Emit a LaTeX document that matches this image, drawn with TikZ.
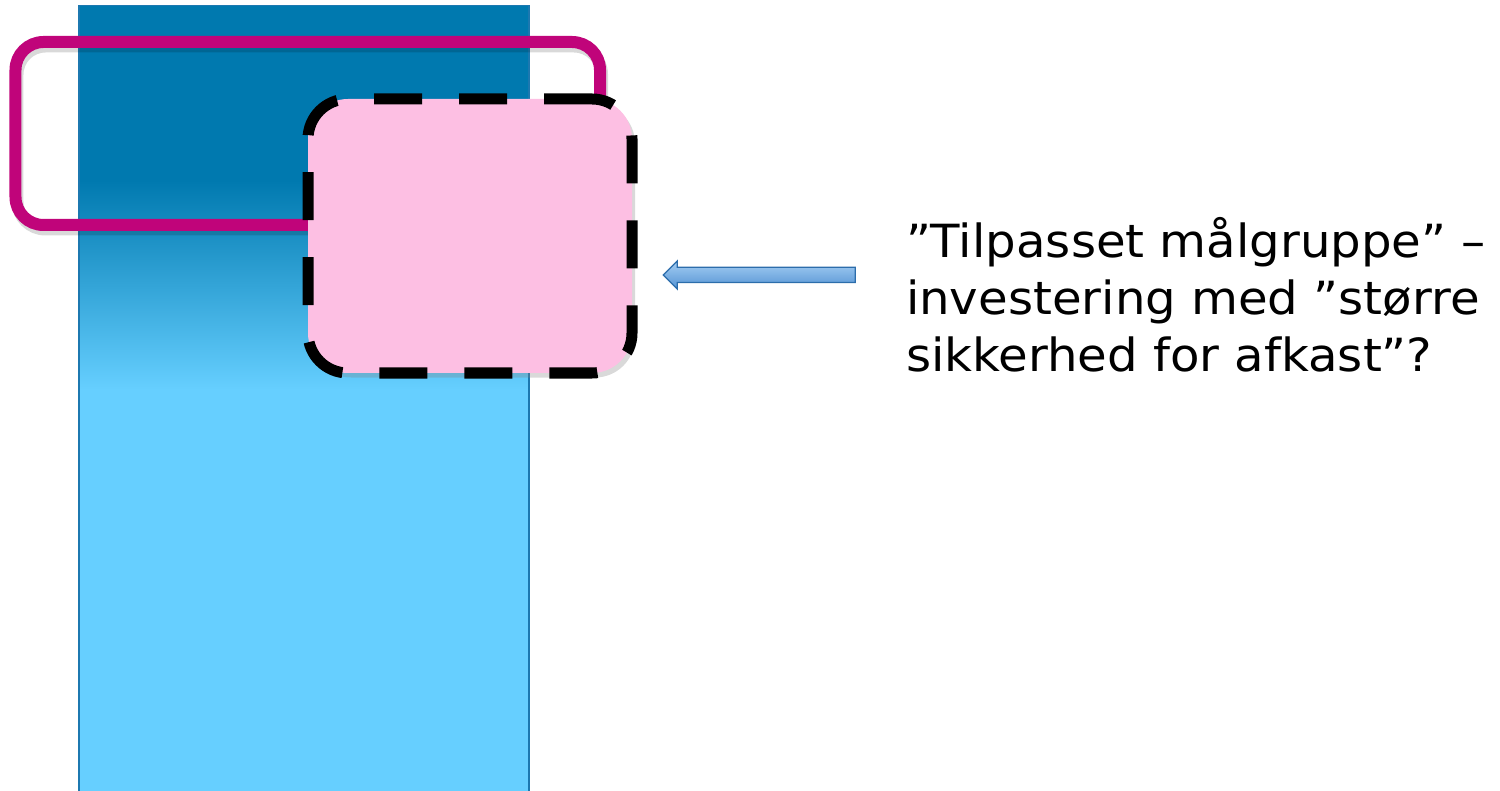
\documentclass[tikz,border=0pt]{standalone}
\usepackage{fontspec}
\setmainfont{DejaVu Sans}[FakeStretch=1.055]
\usetikzlibrary{shapes,shadows,arrows,positioning,calc}

\definecolor{soejlemoerk}{HTML}{0079AF}
\definecolor{soejlelys}{HTML}{66CFFF}
\definecolor{soejlekant}{HTML}{1C78B0}
\definecolor{rammefarve}{HTML}{C0047A}
\definecolor{fokusfyld}{HTML}{FDBFE3}
\definecolor{pilkant}{HTML}{2C6DAB}
\definecolor{pillys}{HTML}{A6CDF2}
\definecolor{pilmoerk}{HTML}{5394D5}

\begin{document}
\begin{tikzpicture}[
				x=0.2mm, y=-0.2mm,
				every node/.style={inner sep=0pt, outer sep=0pt},
				ramme/.style={
						draw=rammefarve, line width=2.4mm, rounded corners=5.6mm,
						minimum width=116.9mm, minimum height=36.6mm,
						preaction={draw=black, draw opacity=0.15,
								transform canvas={shift={(0.4mm,-0.9mm)}}}
					},
				fokus/.style={
						fill=fokusfyld, draw=black, line width=2.2mm,
						dash pattern=on 9.6mm off 7.4mm, rounded corners=8mm,
						minimum width=64.8mm, minimum height=54.8mm,
						drop shadow={shadow xshift=0.6mm, shadow yshift=-0.9mm, opacity=0.3}
					},
				pil/.style={
						single arrow, shape border rotate=180, draw=pilkant, line width=0.25mm,
						top color=pillys, bottom color=pilmoerk, inner sep=1.4mm,
						minimum height=38.4mm, minimum width=5.4mm,
						single arrow head extend=1.3mm
					},
				tekst/.style={
						font=\fontsize{26}{32.4}\selectfont,
						text width=125mm, align=left
					}
			]
			\useasboundingbox (0,0) rectangle (1500,791);

			\fill[soejlemoerk] (79,5.5) rectangle (529,181);
			\shade[top color=soejlemoerk, bottom color=soejlelys] (79,180) rectangle (529,390);
			\fill[soejlelys] (79,389) rectangle (529,800);
			\draw[soejlekant, line width=0.3mm] (79,800) -- (79,5.5) -- (529,5.5) -- (529,800);

			\node[ramme] (ramme) at (307.75,133.5) {};
			\node[fokus] (fokus) at (470,236) {};
			\node[pil] (pil) at (763,275) {};
			\node[tekst, anchor=base west] (tekst) at (906,258)
				{”Tilpasset målgruppe” –\\investering med ”større\\sikkerhed for afkast”?};
		\end{tikzpicture}
\end{document}
